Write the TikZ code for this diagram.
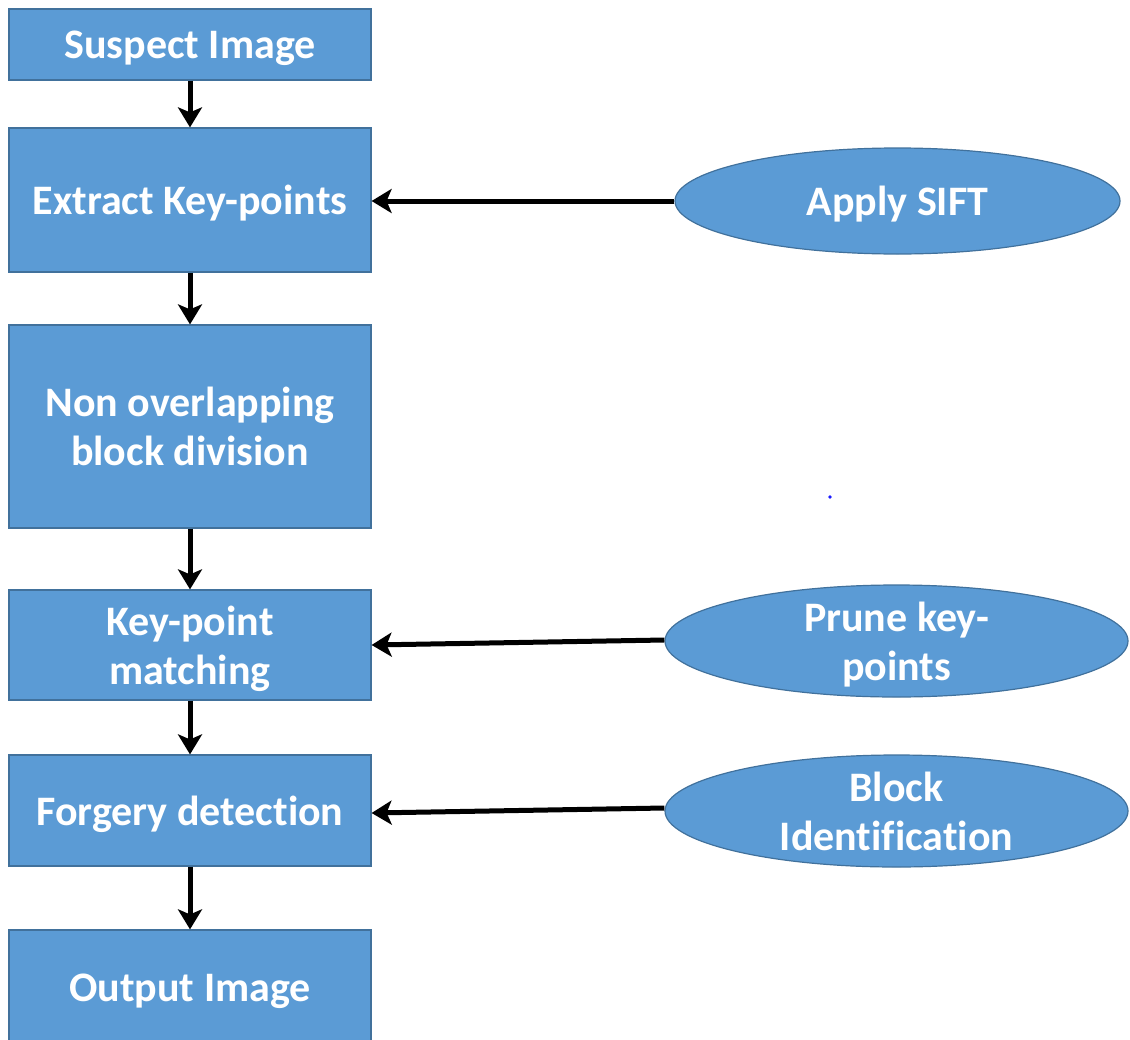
\documentclass[tikz,border=0pt]{standalone}
\usepackage{fontspec}
\setmainfont{Carlito}[Ligatures=NoCommon]
\usetikzlibrary{shapes.geometric,arrows.meta}
\definecolor{boxfill}{HTML}{5B9BD5}
\definecolor{boxline}{HTML}{41719C}
\begin{document}
\begin{tikzpicture}[x=1pt,y=-1pt,
  lbl/.style={text=white,font=\fontsize{42}{49}\selectfont\bfseries,align=center,inner sep=0pt,yshift=-3.5pt},
  stepbox/.style={draw=boxline,line width=1.2pt,fill=boxfill,minimum width=362pt,inner sep=0pt},
  oval/.style={ellipse,draw=boxline,line width=1.2pt,fill=boxfill,inner sep=0pt},
  flow/.style={line width=5pt,-{Stealth[length=20pt,width=24pt,inset=5pt]}}]
\useasboundingbox (0,0) rectangle (1130,1039);

% main column of process steps
\node[stepbox,minimum height=71pt]  (si) at (190,44.5) {};
\node[stepbox,minimum height=144pt] (ek) at (190,200)  {};
\node[stepbox,minimum height=203pt] (nb) at (190,426.5) {};
\node[stepbox,minimum height=110pt] (km) at (190,645)  {};
\node[stepbox,minimum height=111pt] (fd) at (190,810.5) {};
\node[stepbox,minimum height=116pt] (oi) at (190,988)  {};
\node[lbl] (si-t) at (si) {Suspect Image};
\node[lbl] (ek-t) at (ek) {Extract Key-points};
\node[lbl] (nb-t) at (nb) {Non overlapping\\block division\vphantom{g}};
\node[lbl] (km-t) at (km) {Key-point\\matching};
\node[lbl] (fd-t) at (fd) {Forgery detection};
\node[lbl] (oi-t) at (oi) {Output Image};

% side operations
\node[oval,minimum width=445pt,minimum height=106pt] (as) at (897.5,201) {};
\node[lbl] (as-t) at (as) {Apply SIFT};
\node[oval,minimum width=463pt,minimum height=112pt] (pk) at (896.5,641) {};
\node[lbl] (pk-t) at (pk) {Prune key-\\points};
\node[oval,minimum width=463pt,minimum height=112pt] (bi) at (896.5,811) {};
\node[lbl] (bi-t) at (bi) {Block\\Identification\vphantom{g}};

% connectors
\draw[flow] (si.south) -- (ek.north);
\draw[flow] (ek.south) -- (nb.north);
\draw[flow] (nb.south) -- (km.north);
\draw[flow] (km.south) -- (fd.north);
\draw[flow] (fd.south) -- (oi.north);
\draw[flow] (as.west) -- ([yshift=-1pt]ek.east);
\draw[flow] ([yshift=1pt]pk.west) -- (km.east);
\draw[flow] ([yshift=3pt]bi.west) -- ([yshift=-2.5pt]fd.east);

% stray dot
\fill[blue!90] (830,497) circle (1.8pt);
\end{tikzpicture}
\end{document}
